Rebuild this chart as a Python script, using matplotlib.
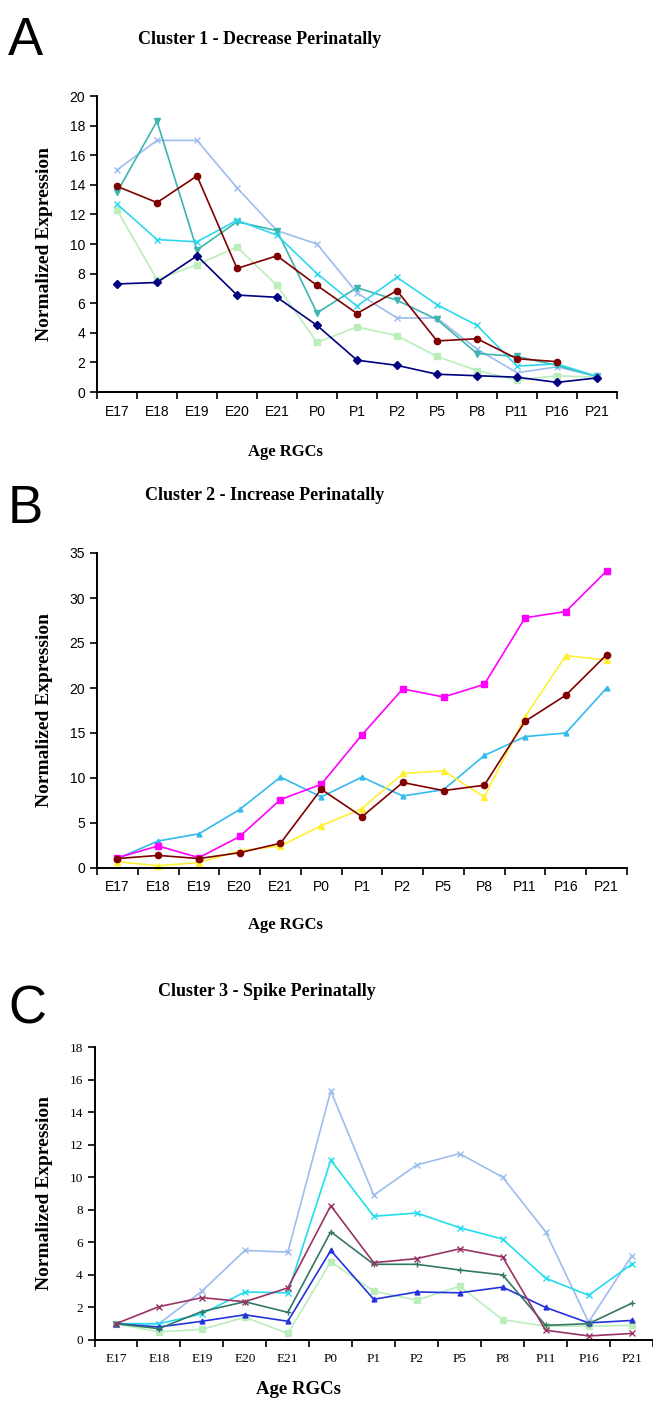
import matplotlib
matplotlib.use('Agg')
import matplotlib.pyplot as plt
import numpy as np

nan = float('nan')
ages = ['E17', 'E18', 'E19', 'E20', 'E21', 'P0', 'P1', 'P2', 'P5', 'P8',
        'P11', 'P16', 'P21']

# Cluster 1 - decrease perinatally
a_navy = [7.3, 7.4, 9.2, 6.55, 6.4, 4.5, 2.15, 1.8, 1.2, 1.1, 1.0, 0.65, 0.95]
a_red = [13.9, 12.8, 14.6, 8.35, 9.2, 7.2, 5.3, 6.85, 3.45, 3.6, 2.25, 2.05, nan]
a_lightblue = [15.0, 17.0, 17.0, 13.8, 10.9, 10.0, 6.7, 5.0, 5.0, 2.9, 1.3, 1.7, 1.05]
a_teal = [13.5, 18.3, 9.6, 11.5, 10.9, 5.35, 7.05, 6.2, 4.9, 2.6, 2.4, 1.8, 1.05]
a_cyan = [12.7, 10.3, 10.15, 11.6, 10.6, 8.0, 5.8, 7.75, 5.9, 4.5, 1.75, 1.9, 1.05]
a_green = [12.3, 7.6, 8.6, 9.8, 7.2, 3.35, 4.4, 3.8, 2.4, 1.45, 0.8, 1.1, 1.0]

# Cluster 2 - increase perinatally
b_magenta = [1.15, 2.45, 1.15, 3.5, 7.6, 9.3, 14.8, 19.9, 19.0, 20.4, 27.8, 28.5, 33.0]
b_blue = [1.05, 3.0, 3.8, 6.5, 10.1, 7.9, 10.1, 8.0, 8.7, 12.5, 14.6, 15.0, 20.0]
b_yellow = [0.7, 0.25, 0.6, 1.9, 2.45, 4.7, 6.6, 10.5, 10.8, 7.9, 16.8, 23.6, 23.1]
b_red = [1.05, 1.4, 1.05, 1.7, 2.75, 8.75, 5.7, 9.5, 8.6, 9.2, 16.3, 19.2, 23.7]

# Cluster 3 - spike perinatally
c_lightblue = [1.0, 1.0, 3.0, 5.5, 5.4, 15.3, 8.9, 10.75, 11.45, 10.0, 6.65, 1.1, 5.15]
c_cyan = [1.0, 1.0, 1.6, 2.95, 2.9, 11.05, 7.6, 7.8, 6.9, 6.2, 3.8, 2.75, 4.65]
c_purple = [1.0, 2.05, 2.6, 2.35, 3.2, 8.25, 4.75, 5.0, 5.6, 5.1, 0.6, 0.25, 0.4]
c_teal = [1.0, 0.7, 1.75, 2.35, 1.7, 6.65, 4.65, 4.65, 4.3, 4.0, 0.9, 1.0, 2.25]
c_blue = [1.0, 0.8, 1.15, 1.55, 1.15, 5.5, 2.5, 2.95, 2.9, 3.25, 2.0, 1.05, 1.2]
c_green = [1.0, 0.5, 0.65, 1.4, 0.4, 4.8, 3.0, 2.45, 3.3, 1.25, 0.85, 0.85, 0.9]

W, H = 653, 1416
SERIF = 'Liberation Serif'
NARROW = ['Liberation Sans Narrow', 'Liberation Sans']


def px_axes(fig, left, right, top, bottom):
    return fig.add_axes([left / W, 1 - bottom / H, (right - left) / W,
                         (bottom - top) / H])


def fig_text(fig, x, y, s, **kw):
    fig.text(x / W, 1 - y / H, s, **kw)


def style(ax, ymax, ystep, tickfont, ticksize):
    ax.set_xlim(-0.5, len(ages) - 0.5)
    ax.set_ylim(0, ymax)
    ax.set_yticks(np.arange(0, ymax + 0.1, ystep))
    ax.set_xticks(np.arange(-0.5, len(ages)), [])
    ax.set_xticks(np.arange(len(ages)), ages, minor=True)
    ax.tick_params(axis='x', which='minor', length=0, pad=9)
    ax.tick_params(axis='both', which='major', length=5, width=1.2,
                   direction='out')
    for lab in ax.get_xticklabels(minor=True) + ax.get_yticklabels():
        lab.set_family(tickfont)
        lab.set_fontsize(ticksize)
    for s in ['top', 'right']:
        ax.spines[s].set_visible(False)
    for s in ['left', 'bottom']:
        ax.spines[s].set_linewidth(1.4)
    ax.set_facecolor('white')


def series(ax, vals, color, marker, ms=4.5, lw=1.2):
    x = np.arange(len(ages))
    ax.plot(x, vals, color=color, marker=marker, markersize=ms,
            linewidth=lw, markeredgewidth=1.0, clip_on=False)


def main():
    fig = plt.figure(figsize=(W / 100, H / 100), dpi=100)

    # Panel A
    ax = px_axes(fig, 97, 617, 96, 392)
    series(ax, a_green, '#BBEEBB', 's')
    series(ax, a_lightblue, '#9DBDEE', 'x')
    series(ax, a_teal, '#3DB5B0', 'v')
    series(ax, a_cyan, '#2ED8EC', 'x')
    series(ax, a_red, '#800000', 'o')
    series(ax, a_navy, '#000080', 'D', ms=4)
    style(ax, 20, 2, NARROW, 10)
    fig_text(fig, 8, 55, 'A', fontsize=38, family='Liberation Sans')
    fig_text(fig, 260, 40, 'Cluster 1 - Decrease Perinatally', family=SERIF,
             fontweight='bold', fontsize=13, ha='center', va='center')
    fig_text(fig, 45, 244, 'Normalized Expression', family=SERIF,
             fontweight='bold', fontsize=14, rotation=90, ha='center',
             va='center')
    fig_text(fig, 285, 452, 'Age RGCs', family=SERIF, fontweight='bold',
             fontsize=12, ha='center', va='center')

    # Panel B
    ax = px_axes(fig, 97, 627, 553, 868)
    series(ax, b_blue, '#33BBEE', '^', ms=3.5)
    series(ax, b_yellow, '#FFF033', '^')
    series(ax, b_magenta, '#FF00FF', 's')
    series(ax, b_red, '#800000', 'o')
    style(ax, 35, 5, NARROW, 10)
    fig_text(fig, 8, 523, 'B', fontsize=38, family='Liberation Sans')
    fig_text(fig, 265, 495, 'Cluster 2 - Increase Perinatally', family=SERIF,
             fontweight='bold', fontsize=13, ha='center', va='center')
    fig_text(fig, 45, 710, 'Normalized Expression', family=SERIF,
             fontweight='bold', fontsize=14, rotation=90, ha='center',
             va='center')
    fig_text(fig, 285, 925, 'Age RGCs', family=SERIF, fontweight='bold',
             fontsize=12, ha='center', va='center')

    # Panel C
    ax = px_axes(fig, 94.5, 653, 1047, 1340)
    series(ax, c_green, '#BBEEBB', 's')
    series(ax, c_lightblue, '#9DBDEE', 'x')
    series(ax, c_cyan, '#22DDEE', 'x')
    series(ax, c_blue, '#2233DD', '^', ms=3.5)
    series(ax, c_teal, '#337766', '+')
    series(ax, c_purple, '#993366', 'x')
    style(ax, 18, 2, SERIF, 9.5)
    fig_text(fig, 8, 1023, 'C', fontsize=38, family='Liberation Sans')
    fig_text(fig, 267, 992, 'Cluster 3 - Spike Perinatally', family=SERIF,
             fontweight='bold', fontsize=13, ha='center', va='center')
    fig_text(fig, 45, 1193, 'Normalized Expression', family=SERIF,
             fontweight='bold', fontsize=14, rotation=90, ha='center',
             va='center')
    fig_text(fig, 299, 1390, 'Age RGCs', family=SERIF, fontweight='bold',
             fontsize=13.5, ha='center', va='center')

    fig.savefig('out.png', dpi=100, facecolor='white')


if __name__ == '__main__':
    main()
